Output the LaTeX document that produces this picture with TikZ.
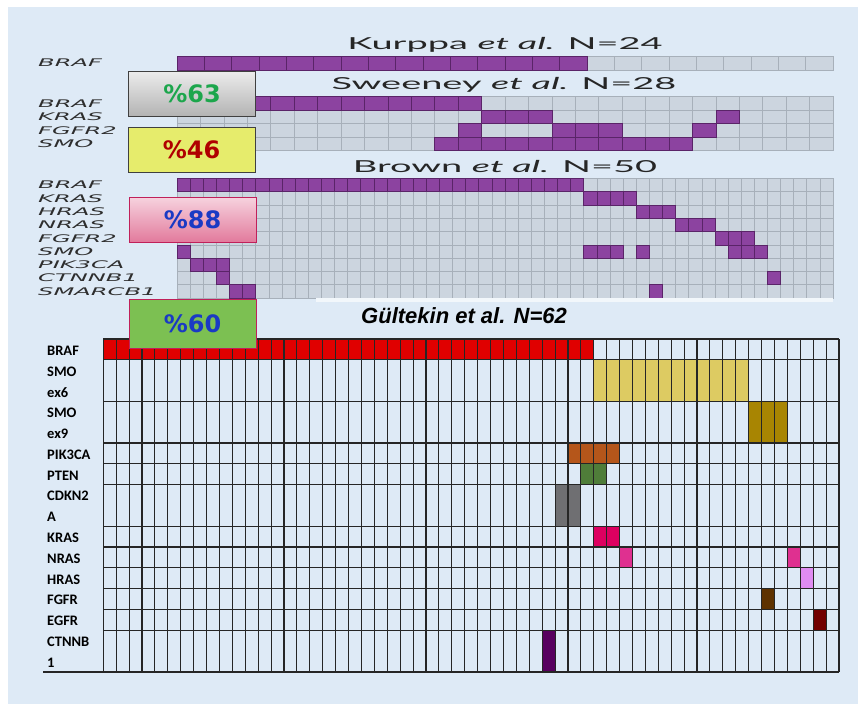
\documentclass[tikz,border=0pt]{standalone}
\usepackage{fontspec}
\setmainfont{DejaVu Sans}
\newfontfamily\genefont{DejaVu Sans}
\newfontfamily\studyfont{Lato}
\newfontfamily\tablefont{Carlito}
\newfontfamily\headfont{Liberation Sans}
\usetikzlibrary{positioning}

\definecolor{bgblue}{HTML}{DEEAF6}
\definecolor{cellgray}{HTML}{CCD5DF}
\definecolor{linegray}{HTML}{A7B0BA}
\definecolor{hitpurple}{HTML}{8C43A0}
\definecolor{hitedge}{HTML}{5A2468}
\definecolor{genegray}{HTML}{2E2E2E}
\definecolor{pctgreen}{HTML}{1CA64C}
\definecolor{pctred}{HTML}{B00000}
\definecolor{pctblue}{HTML}{1A3AC4}
\definecolor{boxyellow}{HTML}{E6EC6C}
\definecolor{boxgreen}{HTML}{7CC052}
\definecolor{boxpinktop}{HTML}{F6D2DE}
\definecolor{boxpinkbot}{HTML}{E27A9C}
\definecolor{boxedge}{HTML}{C0205A}
\definecolor{mutred}{HTML}{E00000}
\definecolor{mutyellow}{HTML}{DDCB62}
\definecolor{mutgold}{HTML}{A88502}
\definecolor{mutorange}{HTML}{B5561A}
\definecolor{mutgreen}{HTML}{4F7D39}
\definecolor{mutgray}{HTML}{6F6F72}
\definecolor{mutcrimson}{HTML}{DD0060}
\definecolor{mutpink}{HTML}{DF3090}
\definecolor{mutviolet}{HTML}{E08CF2}
\definecolor{mutbrown}{HTML}{5E3200}
\definecolor{mutdarkred}{HTML}{720000}
\definecolor{mutpurple}{HTML}{58005F}

\newcommand{\wide}[1]{\scalebox{2.3}[1]{#1}}
\newcommand{\oldgrid}[6]{\foreach \c in {1,...,#3}{\foreach \r in {1,...,#4}{\draw[oldcell] ({#1+(\c-1)*#5},{#2+(\r-1)*#6}) rectangle ++(#5,#6);}}}
\newcommand{\hitrun}[7]{\foreach \c in {#6,...,#7}{\draw[hitcell] ({#1+\c*#3},{#2+#5*#4}) rectangle ++(#3,#4);}}
\newcommand{\gcell}[4]{\foreach \c in {#1}{\fill[#4] ({103.3+\c*12.907},{339+#2*20.8}) rectangle ++(12.907,{#3*20.8});}}

\tikzset{
  oldcell/.style={fill=cellgray, draw=linegray, line width=0.6pt},
  hitcell/.style={fill=hitpurple, draw=hitedge, line width=0.6pt},
  genename/.style={anchor=west, inner sep=0pt, text=genegray, font=\genefont\itshape\fontsize{10.5}{12}\selectfont},
  studytitle/.style={inner sep=0pt, text=black!85, font=\studyfont\fontsize{16.5}{19}\selectfont},
  pctbox/.style={draw=black!75, line width=0.8pt, minimum width=127pt, minimum height=45pt, inner sep=0pt, font=\genefont\bfseries\fontsize{24}{28}\selectfont},
  newline/.style={draw=black!85, line width=1.1pt},
  rowname/.style={anchor=west, inner sep=0pt, font=\tablefont\bfseries\fontsize{14.5}{17}\selectfont}
}

\begin{document}
\begin{tikzpicture}[x=1pt,y=-1pt]
\useasboundingbox (0,0) rectangle (858,704);
\fill[bgblue] (8,7) rectangle (858,704);

\node[studytitle] (kurppa) at (505,45) {\wide{Kurppa \textit{et al.} N=24}};
\oldgrid{177}{56}{24}{1}{27.33}{14}
\hitrun{177}{56}{27.33}{14}{0}{0}{14}
\node[genename] (kBRAF) at (38,63) {\wide{BRAF}};

\node[studytitle] (sweeney) at (504,85) {\wide{Sweeney \textit{et al.} N=28}};
\oldgrid{177}{96.5}{28}{4}{23.43}{13.5}
\hitrun{177}{96.5}{23.43}{13.5}{0}{0}{12}
\hitrun{177}{96.5}{23.43}{13.5}{1}{13}{15}
\hitrun{177}{96.5}{23.43}{13.5}{1}{23}{23}
\hitrun{177}{96.5}{23.43}{13.5}{2}{12}{12}
\hitrun{177}{96.5}{23.43}{13.5}{2}{16}{18}
\hitrun{177}{96.5}{23.43}{13.5}{2}{22}{22}
\hitrun{177}{96.5}{23.43}{13.5}{3}{11}{21}
\foreach \g [count=\i from 0] in {BRAF,KRAS,FGFR2,SMO}
  \node[genename] (s\g) at (38,{103.2+\i*13.5}) {\wide{\g}};

\node[studytitle] (brown) at (505,166) {\wide{Brown \textit{et al.} N=50}};
\oldgrid{177}{178.3}{50}{9}{13.12}{13.3}
\hitrun{177}{178.3}{13.12}{13.3}{0}{0}{30}
\hitrun{177}{178.3}{13.12}{13.3}{1}{31}{34}
\hitrun{177}{178.3}{13.12}{13.3}{2}{35}{37}
\hitrun{177}{178.3}{13.12}{13.3}{3}{38}{40}
\hitrun{177}{178.3}{13.12}{13.3}{4}{41}{43}
\hitrun{177}{178.3}{13.12}{13.3}{5}{0}{0}
\hitrun{177}{178.3}{13.12}{13.3}{5}{31}{33}
\hitrun{177}{178.3}{13.12}{13.3}{5}{35}{35}
\hitrun{177}{178.3}{13.12}{13.3}{5}{42}{44}
\hitrun{177}{178.3}{13.12}{13.3}{6}{1}{3}
\hitrun{177}{178.3}{13.12}{13.3}{7}{3}{3}
\hitrun{177}{178.3}{13.12}{13.3}{7}{45}{45}
\hitrun{177}{178.3}{13.12}{13.3}{8}{4}{5}
\hitrun{177}{178.3}{13.12}{13.3}{8}{36}{36}
\foreach \g [count=\i from 0] in {BRAF,KRAS,HRAS,NRAS,FGFR2,SMO,PIK3CA,CTNNB1,SMARCB1}
  \node[genename] (b\g) at (38,{185+\i*13.3}) {\wide{\g}};
\fill[white!60!bgblue] (316,297.5) rectangle (833,302);

\node[inner sep=0pt, font=\headfont\bfseries\itshape\fontsize{22}{26}\selectfont] (gultekin) at (464,316) {Gültekin et al. N=62};
\gcell{0,...,37}{0}{1}{mutred}
\gcell{38,...,49}{1}{2}{mutyellow}
\gcell{50,...,52}{3}{2}{mutgold}
\gcell{36,...,39}{5}{1}{mutorange}
\gcell{37,38}{6}{1}{mutgreen}
\gcell{35,36}{7}{2}{mutgray}
\gcell{38,39}{9}{1}{mutcrimson}
\gcell{40,53}{10}{1}{mutpink}
\gcell{54}{11}{1}{mutviolet}
\gcell{51}{12}{1}{mutbrown}
\gcell{55}{13}{1}{mutdarkred}
\gcell{34}{14}{2}{mutpurple}
\foreach \c in {0,...,57}
  \draw[newline] ({103.3+\c*12.907},339) -- ({103.3+\c*12.907},671.8);
\foreach \r in {0,1,3,5,6,7,9,10,11,12,13,14}
  \draw[newline] (103.3,{339+\r*20.8}) -- (839,{339+\r*20.8});
\draw[newline, line width=1.4pt] (43,671.8) -- (839,671.8);
\foreach \g [count=\i from 0] in {BRAF,SMO,ex6,SMO,ex9,PIK3CA,PTEN,CDKN2,A,KRAS,NRAS,HRAS,FGFR,EGFR,CTNNB,1}
  \node[rowname] (g\i) at (47,{350.5+\i*20.8}) {\g};

\node[pctbox, top color=white!85!gray, bottom color=black!30, text=pctgreen] (p63) at (192,94) {\%63};
\node[pctbox, fill=boxyellow, text=pctred] (p46) at (191.5,150) {\%46};
\node[pctbox, draw=boxedge, top color=boxpinktop, bottom color=boxpinkbot, text=pctblue] (p88) at (192.5,219.7) {\%88};
\node[pctbox, draw=boxedge, fill=boxgreen, minimum height=49pt, text=pctblue] (p60) at (192.5,323.5) {\%60};
\end{tikzpicture}
\end{document}
